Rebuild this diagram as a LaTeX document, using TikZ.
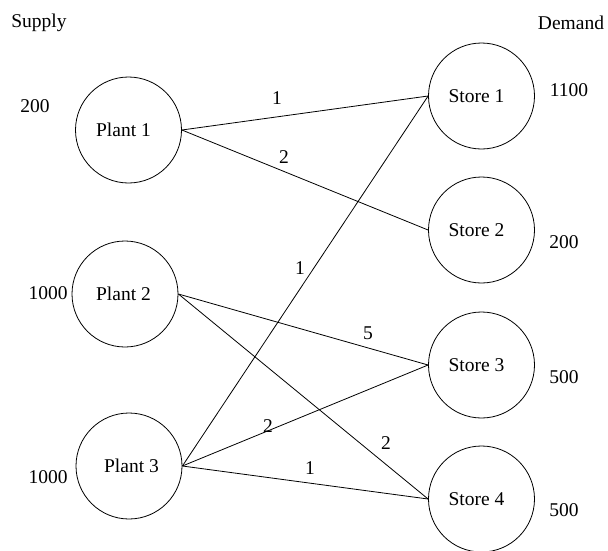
\documentclass[tikz,border=0pt]{standalone}
\usepackage{fontspec}
\setmainfont{Liberation Serif}
\begin{document}
\begin{tikzpicture}[x=1pt,y=-1pt,
  every node/.style={font=\fontsize{19.5}{23}\selectfont},
  nodec/.style={circle,draw,line width=0.8pt,minimum size=106pt,inner sep=0pt},
  link/.style={line width=0.8pt},
  lbl/.style={inner sep=1pt}]
\useasboundingbox (0,0) rectangle (608,550);
\node[nodec] (p1) at (128.5,130) {Plant 1\hspace*{10pt}};
\node[nodec] (p2) at (125,294) {Plant 2\hspace*{3pt}};
\node[nodec] (p3) at (129,466) {\hspace*{5pt}Plant 3};
\node[nodec] (s1) at (481.5,96) {Store 1\hspace*{10pt}};
\node[nodec] (s2) at (481.5,230) {Store 2\hspace*{10pt}};
\node[nodec] (s3) at (481.5,365) {Store 3\hspace*{10pt}};
\node[nodec] (s4) at (481.5,499) {Store 4\hspace*{10pt}};
\node (sup) at (39,23) {Supply};
\node (dem) at (571,23) {Demand};
\node (a1) at (35,106) {200};
\node (a2) at (48,293) {1000};
\node (a3) at (48,477) {1000};
\node (b1) at (569,90) {1100};
\node (b2) at (564,242) {200};
\node (b3) at (564,377) {500};
\node (b4) at (564,510) {500};
\draw[link] (p1.east) -- (s1.west);
\draw[link] (p1.east) -- (s2.west);
\draw[link] (p3.east) -- (s1.west);
\draw[link] (p2.east) -- (s3.west);
\draw[link] (p2.east) -- (s4.west);
\draw[link] (p3.east) -- (s3.west);
\draw[link] (p3.east) -- (s4.west);
\node[lbl] (c11) at (277,98) {1};
\node[lbl] (c12) at (284,157) {2};
\node[lbl] (c31) at (300,268) {1};
\node[lbl] (c23) at (368,333) {5};
\node[lbl] (c33) at (268,426) {2};
\node[lbl] (c24) at (386,443) {2};
\node[lbl] (c34) at (310,468) {1};
\end{tikzpicture}
\end{document}
